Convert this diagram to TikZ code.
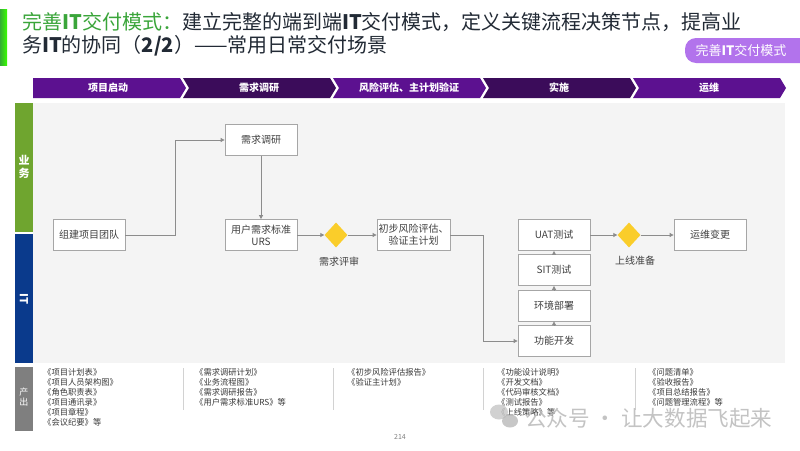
\documentclass[tikz,border=0pt]{standalone}
\usepackage{fontspec}
\setmainfont{Noto Sans CJK SC}
\usetikzlibrary{arrows.meta,shapes.geometric}
\definecolor{tgreen}{HTML}{3AA53A}
\definecolor{ttext}{HTML}{222A35}
\definecolor{pA}{HTML}{5C1190}
\definecolor{pB}{HTML}{3B0C5A}
\definecolor{tagc}{HTML}{B273EC}
\definecolor{bgg}{HTML}{F4F4F4}
\definecolor{lgreen}{HTML}{6FA52F}
\definecolor{lblue}{HTML}{0A3A8C}
\definecolor{lgray}{HTML}{7F7F7F}
\definecolor{boxline}{HTML}{A6A6A6}
\definecolor{lineg}{HTML}{8C8C8C}
\definecolor{txt}{HTML}{404040}
\definecolor{gold}{HTML}{FACD2A}
\begin{document}
\begin{tikzpicture}[x=1pt,y=-1pt,
  stepbox/.style={draw=boxline, fill=white, line width=0.8pt, minimum width=72pt, minimum height=31pt,
    font=\fontsize{10}{12}\selectfont, text=txt, align=center, inner sep=1pt},
  dec/.style={diamond, fill=gold, minimum width=23pt, minimum height=25pt, inner sep=0pt},
  lbl/.style={font=\fontsize{10}{12}\selectfont, text=txt},
  conn/.style={draw=lineg, line width=0.8pt, -{Triangle[length=4pt,width=4pt]}},
  phase/.style={font=\fontsize{10}{12}\selectfont\bfseries, text=white},
  outtxt/.style={font=\fontsize{8.3}{10}\selectfont, text=txt!90!black, align=left, anchor=north west, inner sep=0pt},
  sep/.style={draw=gray!35, line width=0.6pt}]
\useasboundingbox (0,0) rectangle (800,450);
\fill[white] (0,0) rectangle (800,450);
% top left green bar
\shade[left color=green!60!black!80, right color=green!70!lime] (0,9) rectangle (7,65);
% title
\node[anchor=north west, inner sep=0pt, align=left, text=ttext,
  font=\fontsize{20}{22.5}\selectfont] (title) at (22,12.5)
  {{\color{tgreen}完善\textbf{IT}交付模式：}建立完整的端到端\textbf{IT}交付模式，定义关键流程决策节点，提高业\\务\textbf{IT}的协同（\textbf{2/2}）——常用日常交付场景};
% tag
\fill[tagc, rounded corners=11pt] (685,38) rectangle (812,63);
\node[text=white, font=\fontsize{13}{15}\selectfont] (tag) at (741,51) {完善\textbf{IT}交付模式};
% phase chevrons
\fill[pA] (33,78) -- (180,78) -- (186,88) -- (180,98) -- (33,98) -- cycle;
\fill[pB] (183,78) -- (330,78) -- (336,88) -- (330,98) -- (183,98) -- (189,88) -- cycle;
\fill[pA] (333,78) -- (480,78) -- (486,88) -- (480,98) -- (333,98) -- (339,88) -- cycle;
\fill[pB] (483,78) -- (630,78) -- (636,88) -- (630,98) -- (483,98) -- (489,88) -- cycle;
\fill[pA] (633,78) -- (780,78) -- (786,88) -- (780,98) -- (633,98) -- (639,88) -- cycle;
\node[phase] (ph1) at (108,88) {项目启动};
\node[phase] (ph2) at (259,88) {需求调研};
\node[phase] (ph3) at (409,88) {风险评估、主计划验证};
\node[phase] (ph4) at (559,88) {实施};
\node[phase] (ph5) at (709,88) {运维};
% main area
\fill[bgg] (33,103) rectangle (785,363);
\fill[lgreen] (15,103) rectangle (33,232);
\fill[lblue] (15,234) rectangle (33,363);
\fill[lgray] (15,367) rectangle (33,431);
\node[text=white, font=\fontsize{11}{13}\selectfont\bfseries, align=center] (lbiz) at (24,167) {业\\务};
\node[text=white, font=\fontsize{11}{13}\selectfont\bfseries, rotate=-90] (lit) at (24,299) {IT};
\node[text=white, font=\fontsize{9}{10}\selectfont, align=center] (lout) at (24,397) {产\\出};
% nodes
\node[stepbox] (team) at (89,235) {组建项目团队};
\node[stepbox] (req) at (261,140) {需求调研};
\node[stepbox] (urs) at (261,235) {用户需求标准\\URS};
\node[dec] (d1) at (336,235) {};
\node[lbl] (d1l) at (339,262) {需求评审};
\node[stepbox, minimum width=73pt] (risk) at (413.5,235) {初步风险评估、\\验证主计划};
\node[stepbox] (uat) at (554,235) {UAT测试};
\node[stepbox] (sit) at (554,270) {SIT测试};
\node[stepbox] (env) at (554,305.5) {环境部署};
\node[stepbox] (dev) at (554,341) {功能开发};
\node[dec] (d2) at (629,235) {};
\node[lbl] (d2l) at (635,261) {上线准备};
\node[stepbox] (ops) at (710,235) {运维变更};
% connectors
\coordinate (k1) at (175,235);
\coordinate (k2) at (483,235);
\draw[conn] (team.east) -- (k1) |- (req.west);
\draw[conn] (req) -- (urs);
\draw[conn] (urs) -- (d1);
\draw[conn] (d1) -- (risk);
\draw[conn] (risk.east) -- (k2) |- (dev.west);
\draw[conn] (dev) -- (env);
\draw[conn] (env) -- (sit);
\draw[conn] (sit) -- (uat);
\draw[conn] (uat) -- (d2);
\draw[conn] (d2) -- (ops);
% outputs
\node[outtxt] (o1) at (43,368) {《项目计划表》\\《项目人员架构图》\\《角色职责表》\\《项目通讯录》\\《项目章程》\\《会议纪要》等};
\node[outtxt] (o2) at (195,368) {《需求调研计划》\\《业务流程图》\\《需求调研报告》\\《用户需求标准URS》等};
\node[outtxt] (o3) at (347,368) {《初步风险评估报告》\\《验证主计划》};
\node[outtxt] (o4) at (497,368) {《功能设计说明》\\《开发文档》\\《代码审核文档》\\《测试报告》\\《上线策略》等};
\node[outtxt] (o5) at (648,368) {《问题清单》\\《验收报告》\\《项目总结报告》\\《问题管理流程》等};
\draw[sep] (183,368) -- (183,410);
\draw[sep] (333,368) -- (333,410);
\draw[sep] (483,368) -- (483,410);
\draw[sep] (635,368) -- (635,410);
% page number
\node[text=gray, font=\fontsize{7}{8}\selectfont] (pg) at (400,437) {214};
% watermark
\fill[gray!45, opacity=0.8] (499,412) ellipse (9pt and 7.5pt);
\fill[gray!55, opacity=0.8] (510,421) ellipse (8pt and 6.5pt);
\node[anchor=west, text=gray!55, opacity=0.85, font=\fontsize{21.6}{24}\selectfont, inner sep=0pt] (wm) at (525,418) {公众号 · 让大数据飞起来};
\end{tikzpicture}
\end{document}
